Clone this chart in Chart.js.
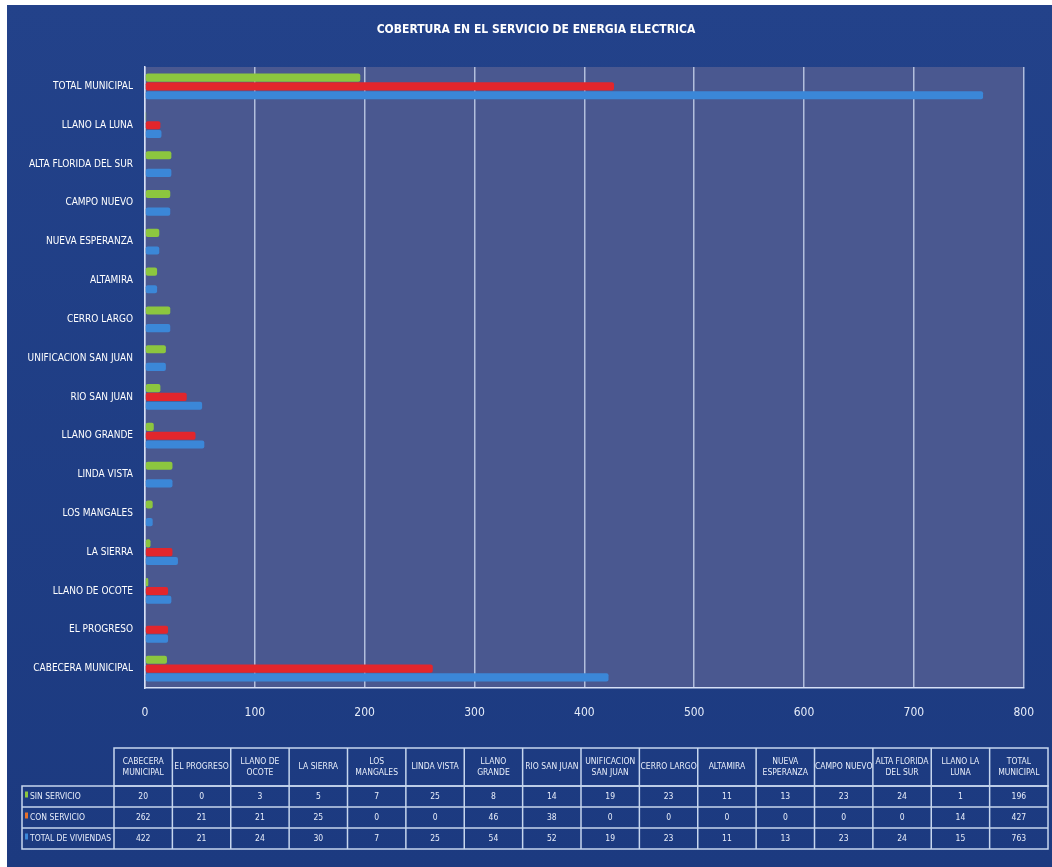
<!DOCTYPE html>
<html>
<head>
<meta charset="utf-8">
<script src="https://cdn.jsdelivr.net/npm/chart.js@4.4.1/dist/chart.umd.min.js"></script>
<style>
  html, body { margin: 0; padding: 0; background: #ffffff; }
  #wrap { width: 1052px; height: 867px; }
</style>
</head>
<body>
<div id="wrap"><canvas id="chart" width="1052" height="867"></canvas></div>
<script>
// data (table under the chart)
const categories = [
  'CABECERA MUNICIPAL', 'EL PROGRESO', 'LLANO DE OCOTE', 'LA SIERRA', 'LOS MANGALES',
  'LINDA VISTA', 'LLANO GRANDE', 'RIO SAN JUAN', 'UNIFICACION SAN JUAN', 'CERRO LARGO',
  'ALTAMIRA', 'NUEVA ESPERANZA', 'CAMPO NUEVO', 'ALTA FLORIDA DEL SUR', 'LLANO LA LUNA',
  'TOTAL MUNICIPAL'
];
const tableHeaders = [
  ['CABECERA', 'MUNICIPAL'], ['EL PROGRESO'], ['LLANO DE', 'OCOTE'], ['LA SIERRA'],
  ['LOS', 'MANGALES'], ['LINDA VISTA'], ['LLANO', 'GRANDE'], ['RIO SAN JUAN'],
  ['UNIFICACION', 'SAN JUAN'], ['CERRO LARGO'], ['ALTAMIRA'], ['NUEVA', 'ESPERANZA'],
  ['CAMPO NUEVO'], ['ALTA FLORIDA', 'DEL SUR'], ['LLANO LA', 'LUNA'], ['TOTAL', 'MUNICIPAL']
];
const sinServicio = [20, 0, 3, 5, 7, 25, 8, 14, 19, 23, 11, 13, 23, 24, 1, 196];
const conServicio = [262, 21, 21, 25, 0, 0, 46, 38, 0, 0, 0, 0, 0, 0, 14, 427];
const totalViviendas = [422, 21, 24, 30, 7, 25, 54, 52, 19, 23, 11, 13, 23, 24, 15, 763];
const seriesNames = ['SIN SERVICIO', 'CON SERVICIO', 'TOTAL DE VIVIENDAS'];
const xTicks = [0, 100, 200, 300, 400, 500, 600, 700, 800];

const FONT = "'DejaVu Sans Condensed', 'Liberation Sans Narrow', 'Arial Narrow', sans-serif";
const GREEN = '#8cc63f';
const RED = '#e2262c';
const BLUE = '#3b87d8';

const backdrop = {
  id: 'backdrop',
  beforeDraw(chart) {
    const ctx = chart.ctx;
    const a = chart.chartArea;
    ctx.save();
    ctx.fillStyle = '#ffffff';
    ctx.fillRect(0, 0, chart.width, chart.height);
    const g = ctx.createLinearGradient(0, 0, 0, chart.height);
    g.addColorStop(0, '#23428a');
    g.addColorStop(1, '#1c3a80');
    ctx.fillStyle = g;
    ctx.fillRect(7, 5, chart.width - 7, chart.height - 5);
    ctx.fillStyle = '#4a5890';
    ctx.fillRect(a.left, a.top, a.right - a.left, a.bottom - a.top);
    // title
    ctx.fillStyle = '#ffffff';
    ctx.font = 'bold 12px ' + FONT;
    ctx.textAlign = 'center';
    ctx.textBaseline = 'middle';
    ctx.fillText('COBERTURA EN EL SERVICIO DE ENERGIA ELECTRICA', 536, 30);
    ctx.restore();
  }
};

const dataTable = {
  id: 'dataTable',
  afterDraw(chart) {
    const ctx = chart.ctx;
    const labelLeft = 22, colLeft = 114, right = 1048;
    const colW = (right - colLeft) / tableHeaders.length;
    const top = 748, headH = 38, rowH = 21;
    const rows = [sinServicio, conServicio, totalViviendas];
    const keys = [GREEN, '#e8702a', BLUE];
    ctx.save();
    ctx.strokeStyle = '#c6d6ee';
    ctx.lineWidth = 1.5;
    // header cells
    ctx.strokeRect(colLeft, top, right - colLeft, headH);
    for (let i = 1; i < tableHeaders.length; i++) {
      ctx.beginPath();
      ctx.moveTo(colLeft + i * colW, top);
      ctx.lineTo(colLeft + i * colW, top + headH + rowH * 3);
      ctx.stroke();
    }
    // data rows
    ctx.strokeRect(labelLeft, top + headH, right - labelLeft, rowH * 3);
    for (let r = 1; r < 3; r++) {
      ctx.beginPath();
      ctx.moveTo(labelLeft, top + headH + r * rowH);
      ctx.lineTo(right, top + headH + r * rowH);
      ctx.stroke();
    }
    ctx.beginPath();
    ctx.moveTo(colLeft, top + headH);
    ctx.lineTo(colLeft, top + headH + rowH * 3);
    ctx.stroke();

    ctx.fillStyle = '#e8eefa';
    ctx.font = '8.5px ' + FONT;
    ctx.textAlign = 'center';
    ctx.textBaseline = 'middle';
    tableHeaders.forEach((lines, i) => {
      const cx = colLeft + (i + 0.5) * colW;
      const cy = top + headH / 2;
      lines.forEach((t, k) => {
        ctx.fillText(t, cx, cy + (k - (lines.length - 1) / 2) * 11);
      });
    });
    rows.forEach((vals, r) => {
      const cy = top + headH + (r + 0.5) * rowH;
      ctx.textAlign = 'left';
      ctx.fillStyle = keys[r];
      ctx.fillRect(labelLeft + 3, cy - 5, 3, 6);
      ctx.fillStyle = '#e8eefa';
      ctx.fillText(seriesNames[r], labelLeft + 8, cy);
      ctx.textAlign = 'center';
      vals.forEach((v, i) => ctx.fillText(String(v), colLeft + (i + 0.5) * colW, cy));
    });
    ctx.restore();
  }
};

const barStyle = { categoryPercentage: 0.68, barPercentage: 0.92, borderRadius: 2, borderSkipped: false };

new Chart(document.getElementById('chart'), {
  type: 'bar',
  data: {
    labels: categories,
    datasets: [
      { label: seriesNames[0], data: sinServicio, backgroundColor: GREEN, ...barStyle },
      { label: seriesNames[1], data: conServicio, backgroundColor: RED, ...barStyle },
      { label: seriesNames[2], data: totalViviendas, backgroundColor: BLUE, ...barStyle }
    ]
  },
  options: {
    indexAxis: 'y',
    responsive: false,
    animation: false,
    layout: { padding: { top: 67, right: 22, left: 0, bottom: 0 } },
    plugins: {
      legend: { display: false },
      title: { display: false },
      tooltip: { enabled: false }
    },
    scales: {
      x: {
        min: 0,
        max: 800,
        afterBuildTicks: s => { s.ticks = xTicks.map(v => ({ value: v })); },
        afterFit: s => { s.height = 867 - 688; },
        ticks: { color: '#e6ecf8', font: { family: FONT, size: 12 }, padding: 18 },
        grid: { color: 'rgba(214,224,246,0.75)', lineWidth: 1.5, drawTicks: false },
        border: { color: '#d6e0f6', width: 1.5 }
      },
      y: {
        reverse: true,
        afterFit: s => { s.width = 145; },
        ticks: { color: '#ffffff', font: { family: FONT, size: 10 }, padding: 12 },
        grid: { display: false, drawTicks: false },
        border: { color: '#d6e0f6', width: 1.5 }
      }
    }
  },
  plugins: [backdrop, dataTable]
});
</script>
</body>
</html>
